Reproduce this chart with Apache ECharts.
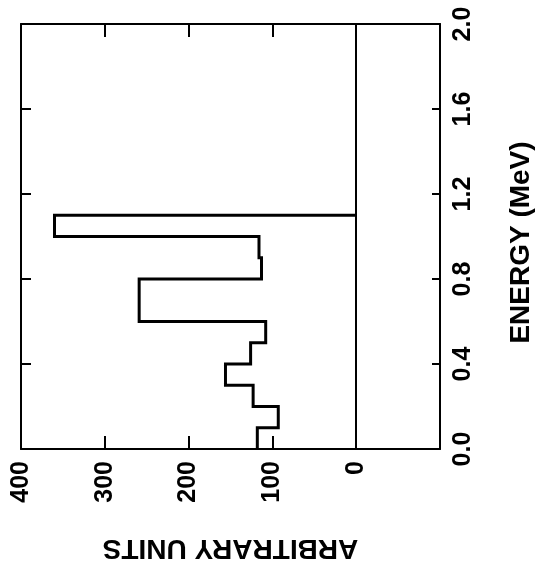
<!DOCTYPE html>
<html><head><meta charset="utf-8">
<script src="https://cdn.jsdelivr.net/npm/echarts@6/dist/echarts.min.js"></script>
<style>html,body{margin:0;padding:0;background:#fff;overflow:hidden}#c{position:absolute;left:0;top:0;width:543px;height:567px}</style>
</head><body><div id="c"></div>
<script>
// Energy bin edges (MeV) and histogram values (arbitrary units)
var binEdges = [0.0, 0.1, 0.2, 0.3, 0.4, 0.5, 0.6, 0.8, 0.9, 1.0, 1.1];
var binValues = [118, 93, 123, 156, 126, 108, 259, 113, 116, 360];
var unitTicks = [400, 300, 200, 100, 0];
var energyTicks = [0.0, 0.4, 0.8, 1.2, 1.6, 2.0];

var pts = [];
for (var i = 0; i < binValues.length; i++) {
  pts.push([binValues[i], binEdges[i]]);
  pts.push([binValues[i], binEdges[i + 1]]);
}
pts.push([0, binEdges[binEdges.length - 1]]);

var font = 'Liberation Sans, Arial, Helvetica, sans-serif';
var chart = echarts.init(document.getElementById('c'), null, {renderer: 'canvas', width: 543, height: 567});
var xCommon = {
  type: 'value', min: -100, max: 400, interval: 100, inverse: true,
  splitLine: {show: false},
  axisLine: {show: true, onZero: false, lineStyle: {color: '#000', width: 2}},
  axisTick: {show: true, inside: true, length: 13, lineStyle: {color: '#000', width: 2}}
};
var yCommon = {
  type: 'value', min: 0, max: 2.0, interval: 0.4,
  splitLine: {show: false},
  axisLine: {show: true, onZero: false, lineStyle: {color: '#000', width: 2}},
  axisTick: {show: true, inside: true, length: 8, lineStyle: {color: '#000', width: 2}}
};
chart.setOption({
  animation: false,
  backgroundColor: '#fff',
  grid: {left: 21, right: 79, top: 24, bottom: 102, containLabel: false},
  xAxis: [
    Object.assign({}, xCommon, {
      position: 'bottom',
      name: 'ARBITRARY UNITS', nameLocation: 'middle', nameGap: 85, nameRotate: 180,
      nameTextStyle: {fontFamily: font, fontWeight: 'bold', fontSize: 28, color: '#000'},
      axisLabel: {
        show: true, rotate: 90, margin: 12,
        fontFamily: font, fontWeight: 'bold', fontSize: 25, color: '#000',
        formatter: function (v) { return unitTicks.indexOf(v) >= 0 ? String(v) : ''; }
      }
    }),
    Object.assign({}, xCommon, {position: 'top', axisLabel: {show: false}})
  ],
  yAxis: [
    Object.assign({}, yCommon, {
      position: 'right',
      name: 'ENERGY (MeV)', nameLocation: 'middle', nameGap: 67, nameRotate: 90,
      nameTextStyle: {fontFamily: font, fontWeight: 'bold', fontSize: 28, color: '#000', padding: [0, 12, 0, 0]},
      axisLabel: {
        show: true, rotate: 90, margin: 11,
        fontFamily: font, fontWeight: 'bold', fontSize: 25, color: '#000',
        formatter: function (v) {
          for (var k = 0; k < energyTicks.length; k++) {
            if (Math.abs(energyTicks[k] - v) < 1e-6) return energyTicks[k].toFixed(1);
          }
          return '';
        }
      }
    }),
    Object.assign({}, yCommon, {position: 'left', axisLabel: {show: false},
      axisTick: {show: true, inside: true, length: 10, lineStyle: {color: '#000', width: 2}}})
  ],
  series: [{
    type: 'line', xAxisIndex: 0, yAxisIndex: 0,
    data: pts, symbol: 'none', silent: true,
    lineStyle: {color: '#000', width: 3, join: 'miter'},
    markLine: {
      silent: true, symbol: ['none', 'none'], label: {show: false},
      lineStyle: {color: '#000', width: 2, type: 'solid'},
      data: [{xAxis: 0}]
    }
  }]
});
</script></body></html>
